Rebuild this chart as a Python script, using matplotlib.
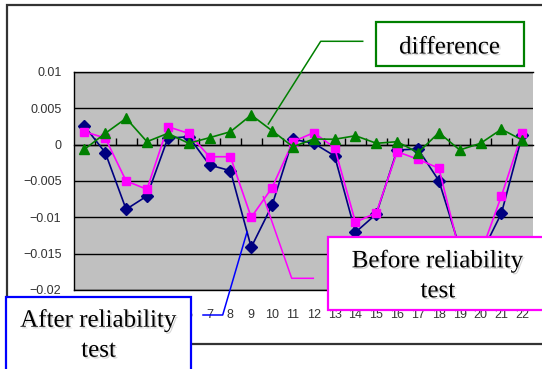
import matplotlib
matplotlib.use("Agg")
import matplotlib.pyplot as plt
import matplotlib.patheffects as pe
from matplotlib.lines import Line2D
from matplotlib.patches import Rectangle

plt.rcParams['font.family'] = ['Liberation Sans', 'DejaVu Sans']

# ---- data -------------------------------------------------------------
samples = list(range(1, 23))
after_test = [0.00257, -0.0011, -0.0089, -0.00706, 0.00088, 0.0011, -0.0028,
              -0.00358, -0.01412, -0.00834, 0.00074, 0.0002, -0.00156, -0.01206,
              -0.00954, -0.00073, -0.0006, -0.00496, -0.0142, -0.0152, -0.00944,
              0.00133]
before_test = [0.00178, 0.00092, -0.005, -0.00614, 0.00247, 0.00156, -0.00166,
               -0.00166, -0.0100, -0.00592, 0.00041, 0.00165, -0.00042, -0.01068,
               -0.00936, -0.00097, -0.00201, -0.00325, -0.01476, -0.0150, -0.00706,
               0.00165]
difference = [-0.00064, 0.00156, 0.00363, 0.00041, 0.00156, 0.00019, 0.00096,
              0.00178, 0.00408, 0.00192, -0.00028, 0.00078, 0.00074, 0.00123,
              0.00019, 0.00041, -0.0011, 0.00165, -0.00073, 0.00019, 0.00212,
              0.00064]
y_ticks = [0.01, 0.005, 0, -0.005, -0.01, -0.015, -0.02]
y_tick_labels = ['0.01', '0.005', '0', '\u22120.005', '\u22120.01', '\u22120.015', '\u22120.02']
x_tick_labels = [str(s) for s in samples]

# ---- figure -----------------------------------------------------------
W, H = 542, 369
fig = plt.figure(figsize=(W / 100, H / 100), dpi=100)
fig.patch.set_facecolor('white')


def fpt(x, y):
    """pixel position (from top-left) -> figure fraction"""
    return x / W, 1 - y / H


ax = fig.add_axes([74 / W, 1 - 290 / H, 458.7 / W, 218 / H])
ax.set_facecolor('#C0C0C0')
ax.set_xlim(0.5, len(samples) + 0.5)
ax.set_ylim(min(y_ticks), max(y_ticks))
ax.set_yticks(y_ticks)
ax.set_yticklabels(y_tick_labels)
ax.set_xticks(samples)
ax.set_xticklabels(x_tick_labels)
ax.yaxis.grid(True, color='black', lw=1.0)
ax.set_axisbelow(True)
ax.tick_params(axis='y', length=0, pad=9, labelsize=9, labelcolor='#333333')
ax.tick_params(axis='x', length=0, pad=13.5, labelsize=9, labelcolor='#333333')
ax.spines['right'].set_visible(False)
for s in ('left', 'top', 'bottom'):
    ax.spines[s].set_color('black')
    ax.spines[s].set_linewidth(1.0)

# category axis crossing at zero, with tick marks between categories
ylo, yhi = ax.get_ylim()
zero_axis = ax.secondary_xaxis((0 - ylo) / (yhi - ylo))
zero_axis.set_xticks([s + 0.5 for s in samples[:-1]])
zero_axis.tick_params(axis='x', direction='out', length=5, width=1,
                      color='black', labeltop=False, labelbottom=False)
for s in zero_axis.spines.values():
    s.set_color('black')
    s.set_linewidth(1.0)

# series
ax.plot(samples, after_test, color='#000080', lw=1.2, marker='D', ms=5.8,
        zorder=3)
ax.plot(samples, before_test, color='#FF00FF', lw=1.2, marker='s', ms=5.8,
        zorder=4)
ax.plot(samples, difference, color='#008000', lw=1.2, marker='^', ms=7.5,
        zorder=5)

# outer chart border
x0, y0 = fpt(6.7, 4.7)
x1, y1 = fpt(600, 344)
fig.add_artist(Rectangle((x0, y1), x1 - x0, y0 - y1, transform=fig.transFigure,
                         fill=False, edgecolor='#333333', lw=1.6, zorder=2))

# ---- callouts -----------------------------------------------------------
shadow = [pe.withSimplePatchShadow(offset=(1.2, -1.2), shadow_rgbFace='#888888',
                                   alpha=0.35)]


def callout(box, color, lines, leader):
    bx0, by0, bx1, by1 = box
    fx0, fy0 = fpt(bx0, by0)
    fx1, fy1 = fpt(bx1, by1)
    fig.add_artist(Rectangle((fx0, fy1), fx1 - fx0, fy0 - fy1,
                             transform=fig.transFigure, facecolor='white',
                             edgecolor=color, lw=1.6, zorder=10))
    xs, ys = zip(*[fpt(px, py) for px, py in leader])
    fig.add_artist(Line2D(xs, ys, transform=fig.transFigure, color=color,
                          lw=1.1, zorder=9))
    for cx, base, txt in lines:
        tx, ty = fpt(cx, base)
        fig.text(tx, ty, txt, ha='center', va='baseline', fontsize=18,
                 family=['Liberation Serif', 'DejaVu Serif'], color='black',
                 zorder=11, path_effects=shadow)


callout((375.7, 22, 524.3, 65.7), '#008000',
        [(449.8, 53.5, 'difference')],
        [(362.7, 41.3), (320.7, 41.3), (268.3, 124)])
callout((6, 296.7, 190.7, 400), '#0000FF',
        [(98.5, 326.7, 'After reliability'), (98.5, 356.7, 'test')],
        [(203, 315), (222.7, 315), (247, 232)])
callout((327.7, 236.7, 600, 310), '#FF00FF',
        [(437.8, 267.3, 'Before reliability'), (437.8, 297.3, 'test')],
        [(313.3, 278.3), (291.7, 278.3), (263.3, 196.7)])

fig.savefig('out.png', dpi=100)
